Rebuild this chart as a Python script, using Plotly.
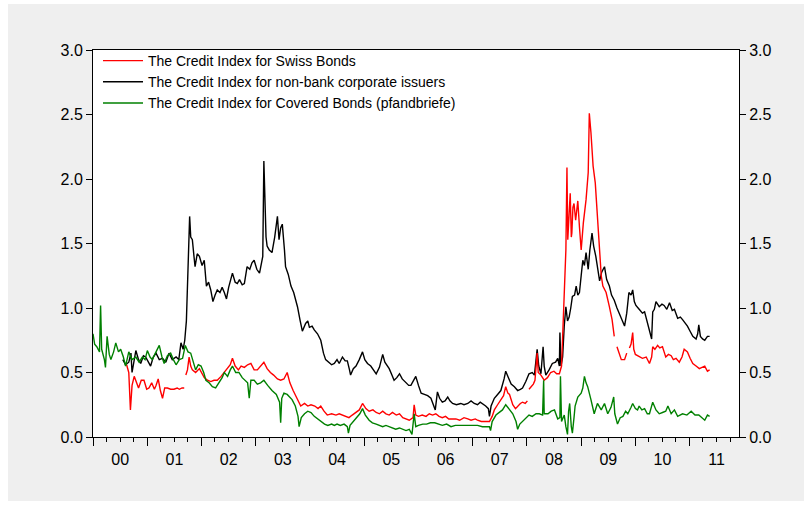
import pandas as pd
import plotly.graph_objects as go

# ---------------- data (decimal year, value) ----------------
swiss_t = [2000.62, 2000.66, 2000.69, 2000.72, 2000.76, 2000.80, 2000.84, 2000.89, 2000.94, 2000.99,
           2001.03, 2001.08, 2001.13, 2001.16, 2001.20, 2001.24, 2001.28, 2001.32, 2001.37, 2001.43,
           2001.49, 2001.55, 2001.59, 2001.64, 2001.68, 2001.69, 2001.71, 2001.74, 2001.77, 2001.80,
           2001.83, 2001.89, 2001.96, 2002.01, 2002.05, 2002.11, 2002.17, 2002.23, 2002.29, 2002.36,
           2002.42, 2002.48, 2002.53, 2002.57, 2002.62, 2002.68, 2002.73, 2002.79, 2002.85, 2002.91,
           2002.97, 2003.03, 2003.09, 2003.15, 2003.21, 2003.27, 2003.33, 2003.40, 2003.46, 2003.52,
           2003.58, 2003.63, 2003.69, 2003.76, 2003.83, 2003.90, 2003.96, 2004.02, 2004.09, 2004.15,
           2004.20, 2004.26, 2004.32, 2004.40, 2004.48, 2004.54, 2004.60, 2004.66, 2004.72, 2004.78,
           2004.85, 2004.91, 2004.97, 2005.03, 2005.09, 2005.16, 2005.22, 2005.28, 2005.34, 2005.40,
           2005.46, 2005.52, 2005.59, 2005.65, 2005.71, 2005.77, 2005.83, 2005.90, 2005.92, 2005.95,
           2006.00, 2006.07, 2006.14, 2006.20, 2006.26, 2006.32, 2006.38, 2006.44, 2006.50, 2006.56,
           2006.63, 2006.69, 2006.76, 2006.84, 2006.91, 2006.97, 2007.05, 2007.09, 2007.16, 2007.23,
           2007.31, 2007.36, 2007.40, 2007.46, 2007.52, 2007.57, 2007.61, 2007.65, 2007.68, 2007.74,
           2007.79, 2007.83, 2007.88, 2007.92, 2007.97, 2008.01, 2008.02, 2008.04, 2008.08, 2008.12,
           2008.15, 2008.19, 2008.21, 2008.26, 2008.32, 2008.38, 2008.44, 2008.50, 2008.55, 2008.60,
           2008.64, 2008.67, 2008.69, 2008.72, 2008.74, 2008.755, 2008.77, 2008.80, 2008.82, 2008.83,
           2008.85, 2008.87, 2008.90, 2008.92, 2008.94, 2008.97, 2009.00, 2009.04, 2009.09, 2009.13,
           2009.15, 2009.18, 2009.20, 2009.22, 2009.26, 2009.30, 2009.34, 2009.37, 2009.40, 2009.46,
           2009.52, 2009.57, 2009.61, 2009.63, 2009.66, 2009.70, 2009.74, 2009.80, 2009.84, 2009.86,
           2009.89, 2009.92, 2009.95, 2009.97, 2010.00, 2010.04, 2010.07, 2010.13, 2010.20, 2010.26,
           2010.30, 2010.32, 2010.36, 2010.41, 2010.45, 2010.50, 2010.53, 2010.56, 2010.61, 2010.66,
           2010.70, 2010.75, 2010.81, 2010.86, 2010.90, 2010.96, 2011.01, 2011.06, 2011.12, 2011.18,
           2011.23, 2011.28, 2011.33, 2011.37]
swiss_v = [0.56, 0.50, 0.21, 0.40, 0.47, 0.42, 0.38, 0.44, 0.44, 0.37,
           0.38, 0.42, 0.37, 0.40, 0.45, 0.36, 0.30, 0.38, 0.38, 0.37,
           0.37, 0.38, 0.37, 0.38, 0.38, None, 0.48, 0.52, 0.62, 0.55,
           0.52, 0.50, 0.53, 0.49, 0.46, 0.44, 0.43, 0.44, 0.44, 0.47,
           0.50, 0.53, 0.56, 0.61, 0.55, 0.52, 0.55, 0.54, 0.56, 0.57,
           0.52, 0.52, 0.55, 0.58, 0.53, 0.50, 0.48, 0.45, 0.44, 0.45,
           0.50, 0.42, 0.36, 0.30, 0.24, 0.26, 0.24, 0.25, 0.24, 0.22,
           0.24, 0.20, 0.17, 0.18, 0.17, 0.18, 0.17, 0.16, 0.15, 0.17,
           0.19, 0.21, 0.26, 0.22, 0.20, 0.21, 0.19, 0.18, 0.20, 0.18,
           0.17, 0.19, 0.17, 0.18, 0.15, 0.14, 0.13, 0.15, 0.25, 0.17,
           0.16, 0.17, 0.16, 0.18, 0.17, 0.18, 0.16, 0.15, 0.16, 0.14,
           0.14, 0.14, 0.13, 0.15, 0.14, 0.13, 0.14, 0.13, 0.12, 0.12,
           0.12, 0.16, 0.21, 0.25, 0.29, 0.32, 0.39, 0.34, 0.33, 0.25,
           0.22, 0.24, 0.26, 0.27, 0.26, 0.28, None, 0.37, 0.39, 0.41,
           0.44, 0.65, 0.50, 0.48, 0.44, 0.46, 0.50, 0.51, 0.49, 0.49,
           0.55, 0.91, 1.15, 1.45, 2.09, 1.53, 1.65, 1.89, 1.55, 1.58,
           1.78, 1.81, 1.68, 1.76, 1.83, 1.63, 1.45, 1.66, 1.84, 2.05,
           2.51, 2.36, 2.20, 2.10, 1.97, 1.71, 1.45, 1.25, 1.17, 1.12,
           1.01, 0.91, 0.78, None, 0.70, 0.65, 0.60, 0.60, 0.65, None,
           0.69, 0.72, 0.81, 0.68, 0.64, 0.63, 0.62, 0.61, 0.62, 0.57,
           0.62, 0.70, 0.68, 0.71, 0.69, 0.70, 0.66, 0.62, 0.64, 0.63,
           0.60, 0.61, 0.58, 0.62, 0.68, 0.66, 0.61, 0.57, 0.55, 0.53,
           0.54, 0.55, 0.51, 0.52]

corp_t = [2000.55, 2000.60, 2000.66, 2000.70, 2000.72, 2000.76, 2000.79, 2000.84, 2000.88, 2000.93,
          2000.97, 2001.02, 2001.06, 2001.11, 2001.16, 2001.22, 2001.28, 2001.34, 2001.40, 2001.46,
          2001.53, 2001.58, 2001.62, 2001.66, 2001.69, 2001.72, 2001.75, 2001.78, 2001.80, 2001.83,
          2001.86, 2001.88, 2001.92, 2001.96, 2002.01, 2002.05, 2002.09, 2002.13, 2002.17, 2002.21,
          2002.25, 2002.29, 2002.34, 2002.38, 2002.42, 2002.46, 2002.50, 2002.54, 2002.57, 2002.62,
          2002.66, 2002.70, 2002.75, 2002.79, 2002.84, 2002.89, 2002.93, 2002.97, 2003.02, 2003.07,
          2003.11, 2003.13, 2003.15, 2003.17, 2003.19, 2003.21, 2003.25, 2003.30, 2003.35, 2003.40,
          2003.43, 2003.46, 2003.49, 2003.53, 2003.55, 2003.60, 2003.65, 2003.70, 2003.77, 2003.82,
          2003.86, 2003.92, 2003.96, 2003.99, 2004.04, 2004.08, 2004.14, 2004.20, 2004.25, 2004.29,
          2004.35, 2004.40, 2004.45, 2004.50, 2004.54, 2004.60, 2004.65, 2004.69, 2004.73, 2004.75,
          2004.80, 2004.85, 2004.91, 2004.97, 2005.01, 2005.06, 2005.12, 2005.17, 2005.22, 2005.28,
          2005.32, 2005.34, 2005.38, 2005.42, 2005.46, 2005.51, 2005.55, 2005.60, 2005.65, 2005.70,
          2005.77, 2005.82, 2005.86, 2005.92, 2005.95, 2006.00, 2006.05, 2006.11, 2006.17, 2006.23,
          2006.29, 2006.31, 2006.35, 2006.39, 2006.44, 2006.49, 2006.54, 2006.58, 2006.63, 2006.70,
          2006.78, 2006.84, 2006.91, 2006.97, 2007.03, 2007.09, 2007.14, 2007.18, 2007.24, 2007.29,
          2007.31, 2007.34, 2007.40, 2007.46, 2007.52, 2007.58, 2007.61, 2007.66, 2007.71, 2007.77,
          2007.83, 2007.88, 2007.92, 2007.98, 2008.04, 2008.10, 2008.14, 2008.19, 2008.22, 2008.26,
          2008.30, 2008.32, 2008.35, 2008.41, 2008.47, 2008.53, 2008.57, 2008.60, 2008.61, 2008.63,
          2008.66, 2008.69, 2008.72, 2008.75, 2008.78, 2008.81, 2008.84, 2008.88, 2008.91, 2008.94,
          2008.97, 2009.00, 2009.03, 2009.06, 2009.09, 2009.13, 2009.16, 2009.20, 2009.23, 2009.27,
          2009.31, 2009.34, 2009.38, 2009.43, 2009.47, 2009.52, 2009.56, 2009.61, 2009.66, 2009.70,
          2009.75, 2009.80, 2009.84, 2009.86, 2009.88, 2009.92, 2009.95, 2009.98, 2010.01, 2010.07,
          2010.13, 2010.17, 2010.21, 2010.25, 2010.29, 2010.30, 2010.32, 2010.35, 2010.38, 2010.44,
          2010.49, 2010.53, 2010.58, 2010.63, 2010.68, 2010.72, 2010.78, 2010.83, 2010.87, 2010.92,
          2010.96, 2011.01, 2011.06, 2011.12, 2011.15, 2011.17, 2011.20, 2011.24, 2011.28, 2011.33,
          2011.37]
corp_v = [0.60, 0.56, 0.58, 0.65, 0.50, 0.60, 0.67, 0.60, 0.57, 0.63,
          0.62, 0.58, 0.55, 0.62, 0.65, 0.60, 0.61, 0.58, 0.65, 0.60,
          0.62, 0.60, 0.73, 0.68, 0.75, 0.90, 1.27, 1.71, 1.55, 1.53,
          1.40, 1.32, 1.42, 1.40, 1.33, 1.37, 1.17, 1.20, 1.14, 1.05,
          1.10, 1.14, 1.12, 1.16, 1.12, 1.07, 1.16, 1.22, 1.27, 1.20,
          1.19, 1.22, 1.18, 1.19, 1.32, 1.30, 1.35, 1.37, 1.30, 1.27,
          1.35, 1.40, 2.14, 1.71, 1.55, 1.48, 1.45, 1.43, 1.55, 1.71,
          1.53, 1.62, 1.65, 1.45, 1.32, 1.26, 1.17, 1.12, 1.01, 0.90,
          0.82, 0.88, 0.90, 0.85, 0.86, 0.83, 0.80, 0.75, 0.65, 0.60,
          0.58, 0.56, 0.57, 0.60, 0.57, 0.62, 0.59, 0.59, 0.52, 0.48,
          0.53, 0.55, 0.60, 0.66, 0.60, 0.57, 0.55, 0.52, 0.49, 0.54,
          0.60, 0.64, 0.58, 0.55, 0.53, 0.48, 0.44, 0.46, 0.49, 0.45,
          0.42, 0.40, 0.40, 0.44, 0.47, 0.40, 0.34, 0.33, 0.32, 0.30,
          0.24, 0.21, 0.35, 0.30, 0.27, 0.28, 0.31, 0.28, 0.26, 0.25,
          0.26, 0.25, 0.26, 0.28, 0.26, 0.25, 0.27, 0.26, 0.24, 0.22,
          0.16, 0.24, 0.30, 0.33, 0.36, 0.45, 0.51, 0.46, 0.41, 0.39,
          0.36, 0.37, 0.38, 0.43, 0.49, 0.50, 0.48, 0.68, 0.55, 0.49,
          0.70, 0.55, 0.48, 0.52, 0.57, 0.58, 0.61, 0.55, 0.81, 0.55,
          0.62, 0.86, 1.01, 0.90, 0.93, 1.00, 1.09, 1.10, 1.17, 1.10,
          1.12, 1.25, 1.37, 1.33, 1.43, 1.30, 1.45, 1.58, 1.48, 1.40,
          1.30, 1.21, 1.28, 1.32, 1.22, 1.17, 1.10, 1.06, 1.00, 0.96,
          0.90, 0.86, 0.96, 1.08, 1.12, 1.10, 1.14, 1.05, 1.02, 0.99,
          0.96, 0.97, 0.90, 0.84, 0.78, 0.76, 0.97, 0.99, 1.05, 1.01,
          1.03, 1.02, 0.99, 1.04, 0.98, 0.99, 0.92, 0.93, 0.91, 0.88,
          0.86, 0.82, 0.78, 0.76, 0.80, 0.87, 0.78, 0.76, 0.75, 0.78,
          0.78]

covered_t = [2000.00, 2000.03, 2000.07, 2000.12, 2000.14, 2000.16, 2000.21, 2000.23, 2000.26, 2000.30,
             2000.33, 2000.38, 2000.42, 2000.47, 2000.51, 2000.56, 2000.60, 2000.66, 2000.72, 2000.79,
             2000.85, 2000.91, 2000.96, 2001.00, 2001.05, 2001.09, 2001.16, 2001.22, 2001.27, 2001.31,
             2001.37, 2001.43, 2001.48, 2001.53, 2001.59, 2001.65, 2001.70, 2001.75, 2001.80, 2001.85,
             2001.89, 2001.94, 2001.99, 2002.04, 2002.08, 2002.14, 2002.20, 2002.26, 2002.32, 2002.38,
             2002.42, 2002.48, 2002.53, 2002.57, 2002.63, 2002.69, 2002.75, 2002.80, 2002.85, 2002.88,
             2002.91, 2002.97, 2003.03, 2003.09, 2003.15, 2003.22, 2003.30, 2003.38, 2003.44, 2003.46,
             2003.48, 2003.52, 2003.58, 2003.67, 2003.73, 2003.78, 2003.80, 2003.84, 2003.90, 2003.96,
             2004.02, 2004.08, 2004.14, 2004.20, 2004.27, 2004.33, 2004.40, 2004.45, 2004.50, 2004.56,
             2004.63, 2004.69, 2004.71, 2004.74, 2004.80, 2004.86, 2004.92, 2004.97, 2005.02, 2005.09,
             2005.15, 2005.22, 2005.28, 2005.34, 2005.40, 2005.46, 2005.52, 2005.58, 2005.65, 2005.71,
             2005.77, 2005.83, 2005.88, 2005.92, 2005.95, 2006.00, 2006.08, 2006.15, 2006.22, 2006.30,
             2006.36, 2006.44, 2006.52, 2006.60, 2006.68, 2006.76, 2006.84, 2006.92, 2007.00, 2007.09,
             2007.18, 2007.26, 2007.31, 2007.33, 2007.36, 2007.43, 2007.49, 2007.55, 2007.61, 2007.66,
             2007.74, 2007.80, 2007.83, 2007.87, 2007.92, 2007.98, 2008.04, 2008.10, 2008.17, 2008.23,
             2008.29, 2008.31, 2008.32, 2008.39, 2008.45, 2008.51, 2008.57, 2008.61, 2008.62, 2008.64,
             2008.69, 2008.72, 2008.75, 2008.77, 2008.79, 2008.82, 2008.84, 2008.87, 2008.89, 2008.94,
             2009.00, 2009.03, 2009.06, 2009.09, 2009.12, 2009.18, 2009.24, 2009.30, 2009.37, 2009.43,
             2009.49, 2009.55, 2009.60, 2009.62, 2009.67, 2009.72, 2009.77, 2009.82, 2009.86, 2009.92,
             2009.95, 2010.00, 2010.04, 2010.07, 2010.12, 2010.17, 2010.22, 2010.26, 2010.32, 2010.38,
             2010.44, 2010.50, 2010.56, 2010.60, 2010.66, 2010.72, 2010.78, 2010.87, 2010.95, 2011.03,
             2011.10, 2011.17, 2011.23, 2011.28, 2011.33, 2011.37]
covered_v = [0.80, 0.72, 0.70, 0.66, 1.02, 0.68, 0.60, 0.54, 0.78, 0.64,
             0.60, 0.66, 0.73, 0.66, 0.68, 0.62, 0.55, 0.66, 0.60, 0.62,
             0.58, 0.62, 0.60, 0.67, 0.62, 0.60, 0.66, 0.71, 0.62, 0.57,
             0.63, 0.65, 0.60, 0.56, 0.60, 0.61, 0.71, 0.66, 0.65, 0.58,
             0.52, 0.56, 0.55, 0.50, 0.44, 0.42, 0.39, 0.38, 0.42, 0.46,
             0.50, 0.47, 0.52, 0.55, 0.50, 0.50, 0.46, 0.44, 0.42, 0.30,
             0.44, 0.44, 0.41, 0.42, 0.44, 0.40, 0.36, 0.33, 0.27, 0.11,
             0.30, 0.34, 0.33, 0.29, 0.24, 0.16, 0.08, 0.15, 0.18, 0.20,
             0.19, 0.16, 0.14, 0.12, 0.10, 0.09, 0.10, 0.09, 0.10, 0.09,
             0.10, 0.08, 0.03, 0.09, 0.12, 0.15, 0.18, 0.22, 0.17, 0.13,
             0.11, 0.10, 0.09, 0.08, 0.09, 0.08, 0.07, 0.06, 0.07, 0.06,
             0.05, 0.06, 0.02, 0.18, 0.08, 0.09, 0.10, 0.10, 0.11, 0.11,
             0.10, 0.09, 0.10, 0.08, 0.09, 0.09, 0.09, 0.09, 0.09, 0.09,
             0.08, 0.08, 0.08, 0.05, 0.12, 0.17, 0.19, 0.21, 0.25, 0.22,
             0.18, 0.12, 0.06, 0.10, 0.12, 0.15, 0.17, 0.16, 0.18, 0.18,
             0.17, 0.44, 0.18, 0.18, 0.20, 0.21, 0.14, 0.15, 0.47, 0.12,
             0.17, 0.08, 0.02, 0.20, 0.26, 0.08, 0.03, 0.15, 0.24, 0.31,
             0.34, 0.38, 0.47, 0.42, 0.39, 0.29, 0.18, 0.26, 0.21, 0.26,
             0.18, 0.23, 0.31, 0.18, 0.10, 0.15, 0.16, 0.20, 0.18, 0.23,
             0.26, 0.22, 0.21, 0.24, 0.21, 0.22, 0.18, 0.18, 0.27, 0.21,
             0.18, 0.19, 0.20, 0.24, 0.18, 0.21, 0.16, 0.18, 0.17, 0.20,
             0.17, 0.17, 0.15, 0.13, 0.17, 0.16]

series_names = ["The Credit Index for Swiss Bonds",
                "The Credit Index for non-bank corporate issuers",
                "The Credit Index for Covered Bonds (pfandbriefe)"]
series_colors = ["#ff0000", "#000000", "#008000"]
y_ticks = [0.0, 0.5, 1.0, 1.5, 2.0, 2.5, 3.0]
x_range = ["2000-01-01", "2011-11-30"]


def to_dates(ts):
    out = []
    for t in ts:
        y = int(t)
        out.append(pd.Timestamp(y, 1, 1) + pd.Timedelta(days=(t - y) * 365.25))
    return out


W, H = 811, 505
L, R, T, B = 93, 72, 50, 68
pw, ph = W - L - R, H - T - B


def px_x(p):
    return (p - L) / pw


def px_y(p):
    return (H - B - p) / ph


fig = go.Figure()
# drawing order: black below, red, green on top; legend order red, black, green
for name, col, ts, vs, rank in [(series_names[1], series_colors[1], corp_t, corp_v, 2),
                                (series_names[0], series_colors[0], swiss_t, swiss_v, 1),
                                (series_names[2], series_colors[2], covered_t, covered_v, 3)]:
    fig.add_trace(go.Scatter(x=to_dates(ts), y=vs, mode="lines", name=name,
                             legendrank=rank,
                             line=dict(color=col, width=1.4), connectgaps=False))

# right-hand axis (mirror of the left one)
fig.add_trace(go.Scatter(x=[], y=[], yaxis="y2", showlegend=False, hoverinfo="skip"))

fig.update_layout(
    width=W, height=H,
    margin=dict(l=L, r=R, t=T, b=B, pad=0),
    paper_bgcolor="white",
    plot_bgcolor="white",
    font=dict(family="Liberation Sans, Arial, sans-serif", size=16, color="black"),
    showlegend=True,
    legend=dict(x=px_x(98), y=px_y(45), xanchor="left", yanchor="top",
                bgcolor="rgba(0,0,0,0)", borderwidth=0, itemwidth=40,
                font=dict(size=14, color="black"), tracegroupgap=0,
                traceorder="normal"),
    shapes=[
        dict(type="rect", xref="paper", yref="paper", layer="below",
             x0=px_x(8), x1=px_x(804), y0=px_y(4), y1=px_y(501),
             fillcolor="#efefef", line=dict(width=0)),
        dict(type="rect", xref="paper", yref="paper", layer="below",
             x0=0, x1=1, y0=0, y1=1, fillcolor="white", line=dict(width=0)),
    ],
    xaxis=dict(type="date", range=x_range, tickformat="%y", dtick="M12",
               tick0="2000-01-01", ticklabelmode="period",
               ticks="outside", ticklen=8, tickwidth=1, tickcolor="black",
               showline=True, linecolor="black", linewidth=1, mirror=True,
               showgrid=False, zeroline=False,
               minor=dict(dtick="M3", ticks="outside", ticklen=4, tickcolor="black",
                          showgrid=False),
               tickfont=dict(size=16)),
    yaxis=dict(range=[0, 3], tickvals=y_ticks, tickformat=".1f",
               ticks="outside", ticklen=6, tickcolor="black",
               showline=True, linecolor="black", linewidth=1, mirror=True,
               showgrid=False, zeroline=False, tickfont=dict(size=16)),
    yaxis2=dict(range=[0, 3], tickvals=y_ticks, tickformat=".1f", overlaying="y",
                side="right", ticks="outside", ticklen=6, tickcolor="black",
                showline=False, showgrid=False, zeroline=False, tickfont=dict(size=16)),
)

fig.write_html("out.html")
